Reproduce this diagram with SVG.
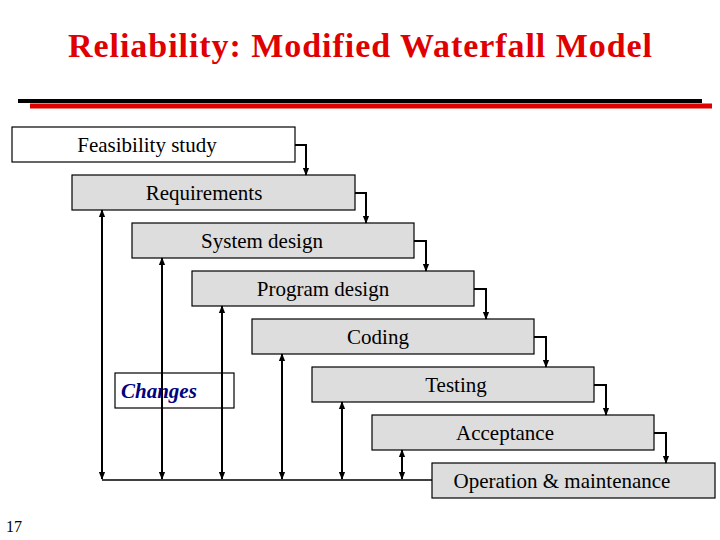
<svg xmlns="http://www.w3.org/2000/svg" width="720" height="540" viewBox="0 0 720 540">
<style>
.b{fill:#ddd;stroke:#000;stroke-width:1.2}
.t{font-family:"Liberation Serif",serif;font-size:21px;text-anchor:middle}
.c{stroke:#000;stroke-width:2;fill:none}
</style>
<defs>
<marker id="a" viewBox="0 0 10 10" refX="9" refY="5" markerWidth="4" markerHeight="4" orient="auto-start-reverse"><path d="M0,1L10,5L0,9z"/></marker>
</defs>
<rect width="720" height="540" fill="#fff"/>
<text x="360" y="57" font-family="Liberation Serif,serif" font-size="34" font-weight="bold" fill="#e00000" text-anchor="middle" textLength="584">Reliability: Modified Waterfall Model</text>
<line x1="18" y1="101" x2="702" y2="101" stroke="#000" stroke-width="4"/>
<line x1="30" y1="106" x2="712" y2="106" stroke="#e00000" stroke-width="5"/>
<g id="n1"><rect x="12" y="127" width="283" height="35" fill="#fff" stroke="#000" stroke-width="1.2"/><text class="t" x="147" y="152">Feasibility study</text></g>
<g id="n2"><rect class="b" x="72" y="175" width="283" height="35"/><text class="t" x="204" y="200">Requirements</text></g>
<g id="n3"><rect class="b" x="132" y="223" width="282" height="35"/><text class="t" x="262" y="248">System design</text></g>
<g id="n4"><rect class="b" x="192" y="271" width="282" height="35"/><text class="t" x="323" y="296">Program design</text></g>
<g id="n5"><rect class="b" x="252" y="319" width="282" height="35"/><text class="t" x="378" y="344">Coding</text></g>
<g id="n6"><rect class="b" x="312" y="367" width="282" height="35"/><text class="t" x="456" y="392">Testing</text></g>
<g id="n7"><rect class="b" x="372" y="415" width="282" height="35"/><text class="t" x="505" y="440">Acceptance</text></g>
<g id="n8"><rect class="b" x="432" y="463" width="283" height="35"/><text class="t" x="562" y="488">Operation &amp; maintenance</text></g>
<g id="changes"><rect x="115" y="373" width="119" height="35" fill="#fff" stroke="#000" stroke-width="1.2"/><text x="121" y="398" font-family="Liberation Serif,serif" font-size="21" font-style="italic" font-weight="bold" fill="#000080">Changes</text></g>
<g id="connectors">
<path class="c" marker-end="url(#a)" d="M295,145H306V175"/>
<path class="c" marker-end="url(#a)" d="M355,193H366V223"/>
<path class="c" marker-end="url(#a)" d="M414,241H426V271"/>
<path class="c" marker-end="url(#a)" d="M474,289H486V319"/>
<path class="c" marker-end="url(#a)" d="M534,337H546V367"/>
<path class="c" marker-end="url(#a)" d="M594,385H606V415"/>
<path class="c" marker-end="url(#a)" d="M654,433H666V463"/>
<line x1="102" y1="480" x2="432" y2="480" stroke="#000" stroke-width="1.5"/>
<path class="c" marker-start="url(#a)" marker-end="url(#a)" d="M102,210V479"/>
<path class="c" marker-start="url(#a)" marker-end="url(#a)" d="M162,258V479"/>
<path class="c" marker-start="url(#a)" marker-end="url(#a)" d="M222,306V479"/>
<path class="c" marker-start="url(#a)" marker-end="url(#a)" d="M282,354V479"/>
<path class="c" marker-start="url(#a)" marker-end="url(#a)" d="M342,402V479"/>
<path class="c" marker-start="url(#a)" marker-end="url(#a)" d="M402,450V479"/>
</g>
<text x="6" y="532" font-family="Liberation Serif,serif" font-size="16">17</text>
</svg>
